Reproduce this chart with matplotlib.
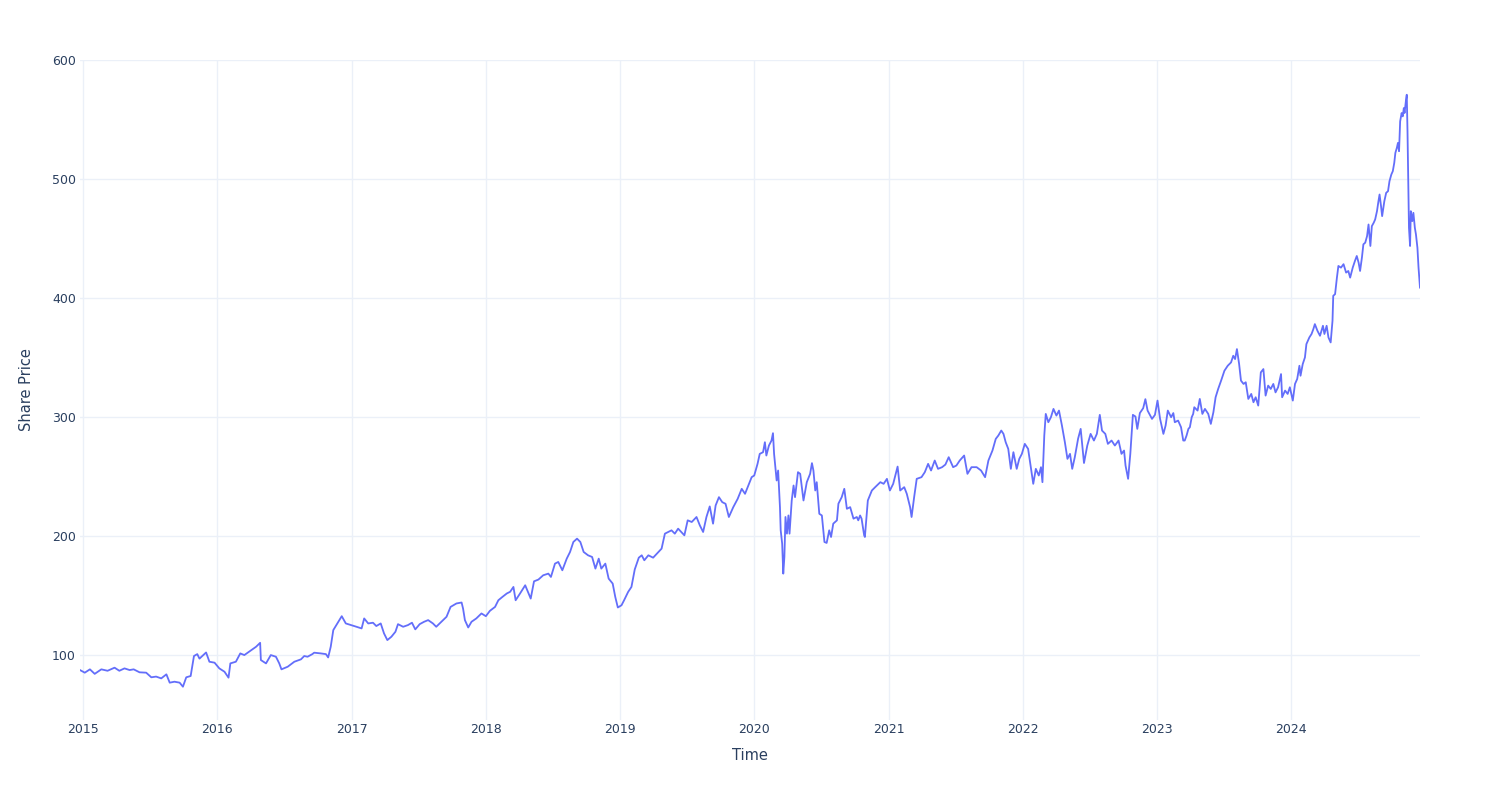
import matplotlib
matplotlib.use("Agg")
import matplotlib.pyplot as plt
import pandas as pd

dates = [
"2014-12-24","2015-01-06","2015-01-20","2015-02-02","2015-02-20","2015-03-09","2015-03-28","2015-04-10",
"2015-04-24","2015-05-08","2015-05-19","2015-06-04","2015-06-22","2015-07-06","2015-07-19","2015-08-02",
"2015-08-16","2015-08-25","2015-09-07","2015-09-21","2015-09-30","2015-10-09","2015-10-21","2015-10-30",
"2015-11-08","2015-11-14","2015-12-02","2015-12-11","2015-12-25",
"2016-01-07","2016-01-21","2016-02-01","2016-02-06","2016-02-21","2016-03-04","2016-03-15","2016-03-28",
"2016-04-06","2016-04-16","2016-04-27","2016-04-29","2016-05-13","2016-05-26","2016-06-09","2016-06-18",
"2016-06-24","2016-07-11","2016-07-29","2016-08-16","2016-08-25","2016-09-03","2016-09-16","2016-09-21",
"2016-10-09","2016-10-23","2016-10-29","2016-11-05","2016-11-12","2016-11-23","2016-12-05","2016-12-16",
"2016-12-31",
"2017-01-14","2017-01-28","2017-02-04","2017-02-15","2017-02-28","2017-03-09","2017-03-21","2017-03-30",
"2017-04-08","2017-04-19","2017-04-30","2017-05-07","2017-05-21","2017-06-03","2017-06-14","2017-06-23",
"2017-07-05","2017-07-17","2017-07-28","2017-08-10","2017-08-19","2017-09-02","2017-09-16","2017-09-27",
"2017-10-13","2017-10-27","2017-10-31","2017-11-05","2017-11-14","2017-11-23","2017-12-06","2017-12-20",
"2018-01-01","2018-01-12","2018-01-26","2018-02-04","2018-02-15","2018-02-27","2018-03-08","2018-03-17",
"2018-03-23","2018-04-04","2018-04-18","2018-05-03","2018-05-12","2018-05-24","2018-06-06","2018-06-20",
"2018-06-27","2018-07-08","2018-07-17","2018-07-28","2018-08-09","2018-08-18","2018-08-27","2018-09-06",
"2018-09-15","2018-09-24","2018-10-06","2018-10-17","2018-10-26","2018-11-04","2018-11-11","2018-11-22",
"2018-12-01","2018-12-12","2018-12-19","2018-12-26",
"2019-01-05","2019-01-12","2019-01-23","2019-02-01","2019-02-10","2019-02-21","2019-03-01","2019-03-08",
"2019-03-19","2019-04-01","2019-04-13","2019-04-24","2019-05-03","2019-05-12","2019-05-21","2019-05-30",
"2019-06-08","2019-06-25","2019-07-04","2019-07-15","2019-07-28","2019-08-06","2019-08-15","2019-08-24",
"2019-09-02","2019-09-11","2019-09-18","2019-09-27","2019-10-06","2019-10-15","2019-10-24","2019-11-05",
"2019-11-17","2019-11-28","2019-12-07","2019-12-16","2019-12-25",
"2020-01-01","2020-01-10","2020-01-16","2020-01-25","2020-01-30","2020-02-03","2020-02-10","2020-02-17",
"2020-02-21","2020-02-24","2020-03-02","2020-03-06","2020-03-11","2020-03-13","2020-03-17","2020-03-20",
"2020-03-23","2020-03-26","2020-03-30","2020-04-03","2020-04-06","2020-04-12","2020-04-17","2020-04-21",
"2020-04-29","2020-05-05","2020-05-14","2020-05-23","2020-06-01","2020-06-06","2020-06-10","2020-06-15",
"2020-06-19","2020-06-26","2020-07-03","2020-07-10","2020-07-16","2020-07-23","2020-07-28","2020-08-03",
"2020-08-13","2020-08-17","2020-08-26","2020-09-02","2020-09-09","2020-09-18","2020-09-27","2020-10-06",
"2020-10-10","2020-10-15","2020-10-19","2020-10-26","2020-10-28","2020-11-05","2020-11-16","2020-11-25",
"2020-12-09","2020-12-18","2020-12-27",
"2021-01-04","2021-01-13","2021-01-25","2021-02-01","2021-02-12","2021-02-19","2021-02-28","2021-03-04",
"2021-03-11","2021-03-18","2021-03-31","2021-04-09","2021-04-18","2021-04-26","2021-05-06","2021-05-15",
"2021-05-26","2021-06-04","2021-06-13","2021-06-25","2021-07-04","2021-07-13","2021-07-25","2021-08-03",
"2021-08-14","2021-08-28","2021-09-09","2021-09-20","2021-09-29","2021-10-10","2021-10-19","2021-10-26",
"2021-11-03","2021-11-09","2021-11-15","2021-11-22","2021-11-29","2021-12-06","2021-12-15","2021-12-22",
"2021-12-29",
"2022-01-06","2022-01-15","2022-01-23","2022-01-29","2022-02-05","2022-02-13","2022-02-19","2022-02-23",
"2022-02-28","2022-03-04","2022-03-11","2022-03-18","2022-03-25","2022-04-02","2022-04-09","2022-04-17",
"2022-04-25","2022-05-02","2022-05-09","2022-05-15","2022-05-22","2022-05-31","2022-06-07","2022-06-16",
"2022-06-25","2022-07-04","2022-07-13","2022-07-21","2022-07-29","2022-08-04","2022-08-13","2022-08-20",
"2022-08-30","2022-09-08","2022-09-18","2022-09-26","2022-10-03","2022-10-07","2022-10-14","2022-10-20",
"2022-10-27","2022-11-03","2022-11-08","2022-11-15","2022-11-24","2022-11-30","2022-12-06","2022-12-12",
"2022-12-18","2022-12-26",
"2023-01-02","2023-01-09","2023-01-18","2023-01-24","2023-01-30","2023-02-08","2023-02-14","2023-02-18",
"2023-02-27","2023-03-07","2023-03-13","2023-03-17","2023-03-22","2023-03-27","2023-03-31","2023-04-05",
"2023-04-09","2023-04-12","2023-04-21","2023-04-27","2023-05-04","2023-05-11","2023-05-20","2023-05-27",
"2023-06-03","2023-06-09","2023-06-16","2023-06-24","2023-07-03","2023-07-12","2023-07-21","2023-07-27",
"2023-08-01","2023-08-06","2023-08-12","2023-08-17","2023-08-24","2023-08-30","2023-09-06","2023-09-14",
"2023-09-20","2023-09-26","2023-10-03","2023-10-10","2023-10-17","2023-10-23","2023-10-30","2023-11-06",
"2023-11-13","2023-11-19","2023-11-26","2023-12-04","2023-12-07","2023-12-15","2023-12-22","2023-12-28",
"2024-01-05","2024-01-11","2024-01-17","2024-01-23","2024-01-26","2024-02-01","2024-02-07","2024-02-11",
"2024-02-19","2024-02-25","2024-03-01","2024-03-05","2024-03-12","2024-03-19","2024-03-27","2024-03-31",
"2024-04-06","2024-04-11","2024-04-17","2024-04-22","2024-04-24","2024-04-29","2024-05-04","2024-05-08",
"2024-05-15","2024-05-22","2024-05-29","2024-06-04","2024-06-09","2024-06-16","2024-06-22","2024-06-27",
"2024-07-02","2024-07-06","2024-07-11","2024-07-15","2024-07-20","2024-07-25","2024-07-29","2024-08-03",
"2024-08-07","2024-08-12","2024-08-16","2024-08-21","2024-08-25","2024-08-28","2024-09-01","2024-09-04",
"2024-09-10","2024-09-15","2024-09-20","2024-09-24","2024-09-29","2024-10-03","2024-10-07","2024-10-10",
"2024-10-14","2024-10-17","2024-10-20","2024-10-23","2024-10-27","2024-10-30","2024-11-02","2024-11-04",
"2024-11-08","2024-11-10","2024-11-12","2024-11-14","2024-11-16","2024-11-19","2024-11-21","2024-11-25",
"2024-11-28","2024-12-02","2024-12-05","2024-12-09","2024-12-12","2024-12-16",
]

prices = [
87.4,85.2,88.0,84.2,88.0,86.8,89.4,86.8,
88.8,87.4,88.0,85.5,85.2,81.3,81.9,80.4,
83.8,76.8,77.6,76.8,73.4,81.3,82.4,99.2,
100.8,97.0,102.2,94.4,93.6,
88.8,86.0,81.0,93.0,94.4,101.4,100.0,102.8,
104.7,107.0,110.3,95.8,93.0,100.0,98.6,93.0,
88.0,90.2,94.4,96.4,99.2,98.6,100.8,102.0,
101.4,100.8,98.0,107.0,121.0,126.6,132.7,126.6,
125.2,
123.8,122.4,130.8,126.6,127.2,124.4,126.6,118.2,
112.6,115.4,119.6,126.0,123.8,125.2,127.2,121.6,
126.0,128.0,129.4,126.6,123.8,128.0,132.2,140.5,
143.4,144.2,139.1,129.4,123.2,128.0,130.8,135.0,
132.7,137.2,140.5,146.1,148.9,151.8,153.2,157.3,
146.1,151.8,158.7,147.5,162.0,163.5,167.1,168.5,
165.7,176.9,178.3,171.3,181.1,186.7,195.1,197.9,
195.1,186.7,183.9,182.5,172.7,181.1,172.7,176.9,
164.3,160.1,148.9,140.0,
141.9,146.1,153.1,157.3,172.0,181.9,183.9,179.7,
183.9,181.9,185.8,189.5,202.1,203.5,204.9,202.1,
206.3,200.7,213.3,211.9,216.1,209.1,203.5,216.1,
225.0,210.5,225.8,232.8,228.6,227.2,216.1,224.4,
231.4,239.8,235.6,242.6,249.6,
251.0,260.8,269.2,270.6,279.0,267.8,276.2,280.4,
286.6,269.2,246.8,255.2,224.4,204.9,193.7,168.5,
182.5,216.1,202.1,217.4,202.1,230.0,242.6,232.8,
253.8,252.4,230.0,245.4,252.4,261.4,255.2,238.4,
245.4,218.8,217.4,195.1,194.3,204.9,199.3,210.5,
213.3,227.3,232.8,239.8,223.0,224.4,214.7,216.1,
213.3,217.4,214.7,200.7,199.3,230.0,238.4,241.2,
245.4,244.0,248.2,
238.4,244.0,258.5,238.4,241.2,235.6,224.4,216.1,
232.8,248.2,249.6,253.8,260.8,255.2,263.6,256.6,
258.0,260.2,266.4,258.0,259.4,263.6,267.8,252.4,
258.0,258.0,255.2,249.6,263.6,272.0,281.8,284.6,
288.8,286.0,279.0,273.4,256.6,270.6,256.6,265.0,
269.2,
277.6,273.4,256.6,244.0,256.6,251.0,258.0,245.4,
284.6,302.8,295.8,300.0,307.0,301.4,305.6,293.0,
279.0,265.0,269.2,256.6,266.4,282.0,290.2,261.5,
276.2,286.0,280.4,286.0,302.0,288.8,286.0,277.6,
280.4,276.2,280.4,269.2,272.0,259.4,248.2,269.2,
302.0,300.6,290.2,303.5,307.6,315.2,305.6,302.0,
298.6,302.0,
314.0,298.6,286.0,293.0,305.6,300.0,303.5,295.8,
297.2,291.6,280.4,280.4,284.6,290.2,291.6,300.0,
302.8,308.4,305.6,315.4,302.8,307.0,302.8,294.4,
304.2,316.8,323.8,330.8,339.1,343.3,346.1,351.7,
348.9,357.3,344.7,330.8,328.0,329.4,315.4,319.6,
312.6,316.8,309.8,337.7,340.5,318.2,326.6,323.8,
328.0,320.9,325.2,336.3,316.8,322.4,319.6,325.2,
314.0,328.0,332.2,343.3,334.9,344.7,350.3,361.5,
367.1,370.0,374.2,378.3,372.7,368.5,376.9,370.0,
376.9,367.1,362.9,381.1,402.1,403.5,417.4,427.2,
425.8,428.7,421.6,423.0,417.4,425.8,431.4,435.6,
430.0,423.0,434.2,445.4,446.8,452.3,462.1,444.0,
460.7,463.5,466.3,473.3,481.7,487.3,477.5,469.1,
481.7,488.7,490.1,498.5,504.1,506.9,513.9,522.3,
526.5,530.7,523.7,548.8,555.8,553.0,560.0,555.8,
567.0,571.2,540.4,498.5,459.3,444.0,473.3,464.9,
471.9,459.3,453.7,442.5,425.8,409.0,
]

year_ticks = [2015, 2016, 2017, 2018, 2019, 2020, 2021, 2022, 2023, 2024]
y_ticks = [100, 200, 300, 400, 500, 600]
x_title = "Time"
y_title = "Share Price"

line_color = "#636efa"
grid_color = "#EBF0F8"
text_color = "#2a3f5f"

plt.rcParams["font.family"] = ["DejaVu Sans"]

x = pd.to_datetime(dates)

fig = plt.figure(figsize=(15, 8), dpi=100)
ax = fig.add_axes([80 / 1500, 80 / 800, 1340 / 1500, 660 / 800])
ax.plot(x, prices, color=line_color, linewidth=1.3, zorder=3)

ax.set_xlim(x[0], x[-1])
ax.set_ylim(45.4, 600.4)

ax.set_xticks([pd.Timestamp(f"{y}-01-01") for y in year_ticks])
ax.set_xticklabels([str(y) for y in year_ticks])
ax.set_yticks(y_ticks)
ax.set_yticklabels([str(v) for v in y_ticks])

ax.grid(True, color=grid_color, linewidth=1.0, zorder=0)
ax.set_axisbelow(True)
for s in ax.spines.values():
    s.set_visible(False)
ax.tick_params(axis="both", length=0, labelsize=9, labelcolor=text_color)
ax.tick_params(axis="x", pad=2)
ax.tick_params(axis="y", pad=3)

fig.text(750 / 1500, 1 - 756 / 800, x_title, ha="center", va="center",
         fontsize=10.5, color=text_color)
fig.text(27 / 1500, 1 - 390 / 800, y_title, ha="center", va="center",
         rotation=90, fontsize=10.5, color=text_color)

fig.savefig("out.png", dpi=100, facecolor="white")
